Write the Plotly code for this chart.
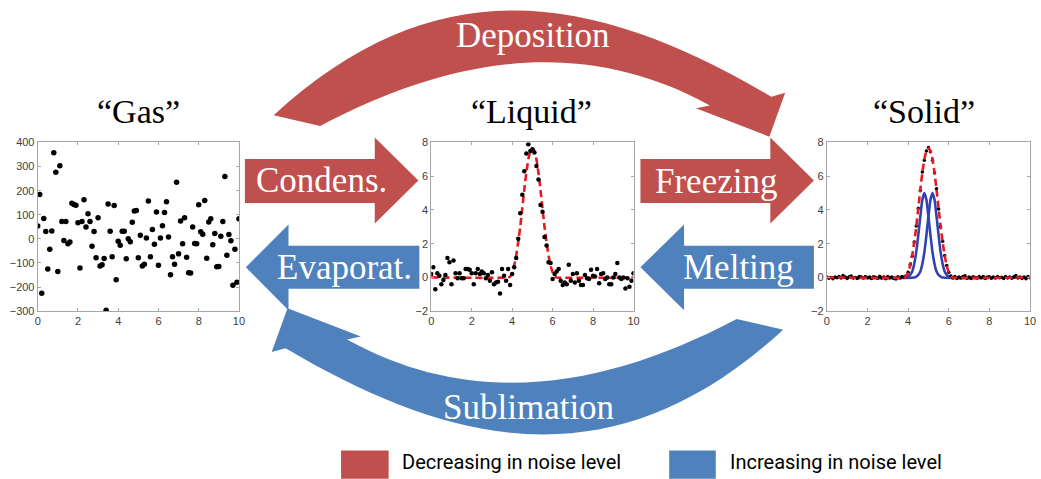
import plotly.graph_objects as go

W, H = 1041, 479

# ---------------- data ----------------
sample_x = [0.0, 0.1, 0.2, 0.3, 0.4, 0.5, 0.6, 0.7, 0.8, 0.9,
            1.0, 1.1, 1.2, 1.3, 1.4, 1.5, 1.6, 1.7, 1.8, 1.9,
            2.0, 2.1, 2.2, 2.3, 2.4, 2.5, 2.6, 2.7, 2.8, 2.9,
            3.0, 3.1, 3.2, 3.3, 3.4, 3.5, 3.6, 3.7, 3.8, 3.9,
            4.0, 4.1, 4.2, 4.3, 4.4, 4.5, 4.6, 4.7, 4.8, 4.9,
            5.0, 5.1, 5.2, 5.3, 5.4, 5.5, 5.6, 5.7, 5.8, 5.9,
            6.0, 6.1, 6.2, 6.3, 6.4, 6.5, 6.6, 6.7, 6.8, 6.9,
            7.0, 7.1, 7.2, 7.3, 7.4, 7.5, 7.6, 7.7, 7.8, 7.9,
            8.0, 8.1, 8.2, 8.3, 8.4, 8.5, 8.6, 8.7, 8.8, 8.9,
            9.0, 9.1, 9.2, 9.3, 9.4, 9.5, 9.6, 9.7, 9.8, 9.9, 10.0]

gas_y = [53, 184, -226, 85, 31, -125, -43, 33, 357, 276,
         -135, 303, 72, -7, 72, -20, -13, 148, 143, 140,
         67, -121, 72, 162, 49, 104, 72, -31, 31, -78,
         88, -113, -107, -81, -296, 145, 32, -74, 138, -170,
         -10, -26, 32, 32, -82, 0, -12, 69, 116, 118,
         -78, 15, -113, -105, 4, 157, -74, 39, -22, 112,
         -109, 4, 54, 109, 154, 8, -149, -74, -105, 235,
         -62, 74, -20, 88, -76, -141, -142, 49, -19, -20,
         142, 30, 19, 159, -80, 70, 84, -24, 22, -116,
         -115, 11, 72, 259, -68, 18, -8, -192, -43, -180, 84]

liquid_y = [0.2, 0.6, -0.7, 0.25, 0.1, -0.4, -0.15, 0.15, 1.15, 0.9,
            -0.4, 1.0, 0.25, -0.05, 0.25, -0.05, -0.05, 0.5, 0.5, 0.45,
            0.25, -0.4, 0.25, 0.5, 0.2, 0.35, 0.25, -0.05, 0.15, -0.2,
            0.3, -0.4, -0.3, -0.25, -0.95, 0.5, 0.1, -0.2, 0.5, -0.45,
            0.2, 0.6, 1.15, 2.3, 3.8, 4.9, 6.3, 7.35, 7.9, 7.5,
            7.6, 7.4, 6.6, 5.8, 4.3, 3.9, 2.4, 1.9, 0.9, 0.85,
            -0.1, 0.2, 0.35, 0.5, -0.2, -0.45, -0.3, -0.4, 0.75, -0.2,
            0.2, -0.3, 0.25, -0.2, -0.45, -0.45, 0.15, -0.05, -0.1, 0.45,
            0.1, 0.05, 0.5, -0.35, 0.2, 0.25, -0.1, 0.0, -0.4, -0.4,
            0.0, 0.2, 0.85, 0.0, -0.1, 0.0, -0.65, -0.05, -0.55, -0.2, 0.25]

solid_y = [0.02, -0.05, 0.0, -0.08, 0.03, -0.02, 0.05, -0.04, 0.12, 0.02,
           -0.06, 0.04, 0.08, -0.03, 0.0, -0.07, 0.05, 0.02, -0.04, 0.06,
           -0.02, 0.03, -0.06, 0.04, 0.01, -0.05, 0.07, -0.03, 0.02, -0.08,
           0.05, -0.02, 0.03, -0.06, -0.1, 0.04, -0.03, 0.06, 0.02, 0.08,
           0.3, 0.75, 1.25, 2.1, 3.05, 4.1, 5.15, 6.25, 6.95, 7.5,
           7.7, 7.45, 6.95, 6.2, 5.25, 4.05, 3.0, 2.15, 1.3, 0.7,
           0.3, 0.08, -0.03, 0.05, -0.06, 0.02, -0.04, 0.06, 0.1, -0.05,
           0.03, -0.07, 0.04, 0.0, -0.04, 0.06, -0.02, 0.05, -0.06, 0.02,
           0.04, -0.05, 0.03, -0.03, 0.06, -0.02, 0.01, -0.07, 0.05, -0.03,
           0.02, -0.05, 0.04, 0.12, -0.04, 0.03, -0.06, 0.02, -0.08, 0.05, -0.02]

fit_x = [0, 3.8, 3.9, 4.0, 4.1, 4.2, 4.3, 4.4, 4.5, 4.6, 4.7, 4.8, 4.9, 5.0,
         5.1, 5.2, 5.3, 5.4, 5.5, 5.6, 5.7, 5.8, 5.9, 6.0, 6.1, 6.2, 10]
fit_y = [0, 0, 0.05, 0.3, 0.7, 1.3, 2.1, 3.0, 4.1, 5.2, 6.2, 7.0, 7.5, 7.65,
         7.5, 7.0, 6.2, 5.2, 4.1, 3.0, 2.1, 1.3, 0.7, 0.3, 0.05, 0, 0]

blue1_x = [0, 3.9, 4.0, 4.1, 4.2, 4.3, 4.4, 4.5, 4.6, 4.7, 4.8, 4.9, 5.0, 5.1, 5.2, 5.3, 5.4, 5.5, 5.6, 5.7, 10]
blue1_y = [0, 0, 0.05, 0.15, 0.35, 0.8, 1.5, 2.5, 3.6, 4.6, 5.0, 4.6, 3.6, 2.5, 1.5, 0.8, 0.35, 0.15, 0.05, 0, 0]
blue2_x = [0, 4.3, 4.4, 4.5, 4.6, 4.7, 4.8, 4.9, 5.0, 5.1, 5.2, 5.3, 5.4, 5.5, 5.6, 5.7, 5.8, 5.9, 6.0, 6.1, 10]
blue2_y = [0, 0, 0.05, 0.15, 0.35, 0.8, 1.5, 2.5, 3.6, 4.6, 5.0, 4.6, 3.6, 2.5, 1.5, 0.8, 0.35, 0.15, 0.05, 0, 0]

panel_titles = ["\u201cGas\u201d", "\u201cLiquid\u201d", "\u201cSolid\u201d"]
arrow_labels = ["Deposition", "Condens.", "Freezing", "Evaporat.", "Melting", "Sublimation"]
legend_labels = ["Decreasing in noise level", "Increasing in noise level"]

RED = "#C0504D"
BLUE = "#4F81BD"
LINE_RED = "#E8191E"
LINE_BLUE = "#3242B2"

# ---------------- figure ----------------
fig = go.Figure()

fig.add_trace(go.Scatter(x=sample_x, y=gas_y, mode="markers",
                         marker=dict(color="black", size=5.5), xaxis="x", yaxis="y"))

fig.add_trace(go.Scatter(x=fit_x, y=fit_y, mode="lines",
                         line=dict(color=LINE_RED, width=2.6, dash="7px,4px", shape="spline", smoothing=0.6),
                         xaxis="x2", yaxis="y2"))
fig.add_trace(go.Scatter(x=sample_x, y=liquid_y, mode="markers",
                         marker=dict(color="black", size=4.5), xaxis="x2", yaxis="y2"))

fig.add_trace(go.Scatter(x=blue1_x, y=blue1_y, mode="lines",
                         line=dict(color=LINE_BLUE, width=2.6, shape="spline", smoothing=0.6),
                         xaxis="x3", yaxis="y3"))
fig.add_trace(go.Scatter(x=blue2_x, y=blue2_y, mode="lines",
                         line=dict(color=LINE_BLUE, width=2.6, shape="spline", smoothing=0.6),
                         xaxis="x3", yaxis="y3"))
fig.add_trace(go.Scatter(x=sample_x, y=solid_y, mode="markers",
                         marker=dict(color="black", size=3.5), xaxis="x3", yaxis="y3"))
fig.add_trace(go.Scatter(x=fit_x, y=fit_y, mode="lines",
                         line=dict(color=LINE_RED, width=2.6, dash="7px,4px", shape="spline", smoothing=0.6),
                         xaxis="x3", yaxis="y3"))


def px_dom(a, b):
    return [a / W, b / W]


def py_dom(top, bottom):
    return [1 - bottom / H, 1 - top / H]


axis_style = dict(showline=True, mirror="ticks", linecolor="#A6A6A6", linewidth=1,
                  ticks="inside", ticklen=3, tickcolor="#A6A6A6", tickwidth=1,
                  showgrid=False, zeroline=False, fixedrange=True,
                  tickfont=dict(family="Liberation Sans", size=11, color="#404040"))

ydom = py_dom(140, 313)
fig.update_layout(
    xaxis=dict(domain=px_dom(35, 238), range=[0, 10], tickvals=[0, 2, 4, 6, 8, 10], anchor="y", **axis_style),
    yaxis=dict(domain=ydom, range=[-300, 400], tickvals=[-300, -200, -100, 0, 100, 200, 300, 400], anchor="x", **axis_style),
    xaxis2=dict(domain=px_dom(432, 636), range=[0, 10], tickvals=[0, 2, 4, 6, 8, 10], anchor="y2", **axis_style),
    yaxis2=dict(domain=ydom, range=[-2, 8], tickvals=[-2, 0, 2, 4, 6, 8], anchor="x2", **axis_style),
    xaxis3=dict(domain=px_dom(831, 1036), range=[0, 10], tickvals=[0, 2, 4, 6, 8, 10], anchor="y3", **axis_style),
    yaxis3=dict(domain=ydom, range=[-2, 8], tickvals=[-2, 0, 2, 4, 6, 8], anchor="x3", **axis_style),
)


# ---------------- decorative arrows (pixel geometry) ----------------
def pt(p):
    return f"{p[0] / W:.5f},{1 - p[1] / H:.5f}"


def poly(points):
    return "M " + " L ".join(pt(p) for p in points) + " Z"


shapes = []

straight = [
    ([(244, 157), (375, 157), (375, 135), (419, 179), (375, 223), (375, 202), (244, 202)], RED),
    ([(643, 157), (774, 157), (774, 135), (818, 179), (774, 223), (774, 202), (643, 202)], RED),
    ([(420, 246), (288, 246), (288, 224), (245, 268), (288, 312), (288, 290), (420, 290)], BLUE),
    ([(818, 246), (687, 246), (687, 224), (643, 268), (687, 312), (687, 290), (818, 290)], BLUE),
]
for pts, col in straight:
    shapes.append(dict(type="path", xref="paper", yref="paper", path=poly(pts),
                       fillcolor=col, line=dict(width=0)))

dep = dict(O0=(273, 112), O1=(440, -44), O2=(600, -12), O3=(775, 93),
           WO=(789, 89), TIP=(773, 134), WI=(699, 105),
           I3=(713, 102), I2=(585, 30), I1=(452, 52), I0=(320, 123))


def curved_path(g):
    return (f"M {pt(g['O0'])} C {pt(g['O1'])} {pt(g['O2'])} {pt(g['O3'])} "
            f"L {pt(g['WO'])} L {pt(g['TIP'])} L {pt(g['WI'])} L {pt(g['I3'])} "
            f"C {pt(g['I2'])} {pt(g['I1'])} {pt(g['I0'])} Z")


sub = {k: (1060 - v[0], 444 - v[1]) for k, v in dep.items()}

shapes.append(dict(type="path", xref="paper", yref="paper", path=curved_path(dep),
                   fillcolor=RED, line=dict(width=0)))
shapes.append(dict(type="path", xref="paper", yref="paper", path=curved_path(sub),
                   fillcolor=BLUE, line=dict(width=0)))

# legend squares
shapes.append(dict(type="rect", xref="paper", yref="paper", x0=341 / W, x1=389 / W,
                   y0=1 - 485 / H, y1=1 - 456 / H, fillcolor=RED, line=dict(width=0)))
shapes.append(dict(type="rect", xref="paper", yref="paper", x0=672 / W, x1=719 / W,
                   y0=1 - 485 / H, y1=1 - 456 / H, fillcolor=BLUE, line=dict(width=0)))

annotations = []


def ann(text, x, y, size, color, family="Liberation Serif", xanchor="center"):
    annotations.append(dict(text=text, x=x / W, y=1 - y / H, xref="paper", yref="paper",
                            showarrow=False, xanchor=xanchor, yanchor="middle",
                            font=dict(family=family, size=size, color=color)))


for t, cx in zip(panel_titles, [137, 533, 929]):
    ann(t, cx, 108, 34, "black")

arrow_pos = [(535, 30), (321, 179), (719, 180), (344, 268), (742, 268), (530, 412)]
for t, (cx, cy) in zip(arrow_labels, arrow_pos):
    ann(t, cx, cy, 35, "white")

ann(legend_labels[0], 400, 468, 20, "black", family="Roboto", xanchor="left")
ann(legend_labels[1], 731, 468, 20, "black", family="Roboto", xanchor="left")

fig.update_layout(
    shapes=shapes, annotations=annotations,
    width=W, height=H, autosize=False,
    margin=dict(l=0, r=0, t=0, b=0),
    paper_bgcolor="white", plot_bgcolor="white",
    showlegend=False,
)

fig.write_html("out.html", config={"displayModeBar": False})
